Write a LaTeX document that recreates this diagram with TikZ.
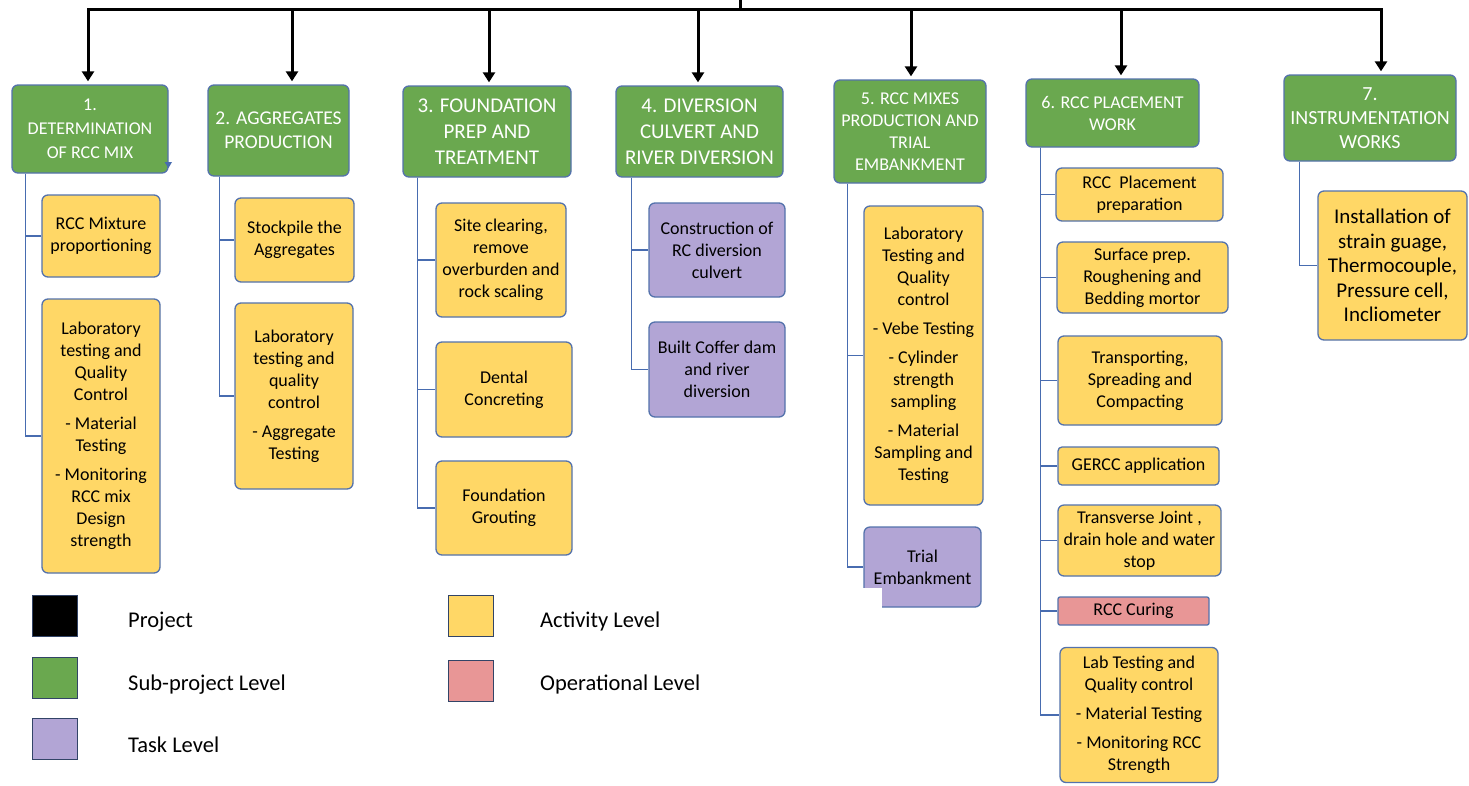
\documentclass[tikz,border=0pt]{standalone}
\usepackage{fontspec}
\setmainfont{Carlito}
\usetikzlibrary{arrows.meta}
\definecolor{grn}{RGB}{106,168,79}
\definecolor{yel}{RGB}{255,215,102}
\definecolor{pur}{RGB}{178,165,213}
\definecolor{pnk}{RGB}{232,150,150}
\definecolor{bordc}{RGB}{84,114,172}
\definecolor{lineblue}{RGB}{72,108,176}
\newcommand\fs[2]{\fontsize{#1}{#2}\selectfont}
\begin{document}
\begin{tikzpicture}[x=1pt,y=-1pt,
  box/.style={draw=bordc, line width=1.3pt, rounded corners=6pt, inner sep=0pt, align=center, font=\fs{18}{22}},
  grbox/.style={box, fill=grn, text=white},
  yebox/.style={box, fill=yel},
  pubox/.style={box, fill=pur},
  pkbox/.style={box, fill=pnk, rounded corners=2pt},
  conn/.style={draw=lineblue, line width=1.6pt},
  arr/.style={line width=3pt, shorten >=3pt, -{Triangle[width=12pt,length=10pt]}},
  bar/.style={line width=3pt, line cap=rect},
  legsq/.style={draw=bordc!60!black, line width=1pt, inner sep=0pt, minimum width=45pt, minimum height=41pt},
  legtx/.style={anchor=base west, inner sep=0pt, font=\fs{22.5}{27}}
]
\fill[white] (0,0) rectangle (1469,785);
\useasboundingbox (0,0) rectangle (1469,785);

% sub-project boxes
\node[grbox, font=\fs{18}{24}, minimum width=156pt, minimum height=88pt] (g1) at (90,129) {1.\\DETERMINATION\\OF RCC MIX};
\node[grbox, font=\fs{19.5}{24}, minimum width=141pt, minimum height=91pt] (g2) at (278.5,130.5) {2. AGGREGATES\\PRODUCTION};
\node[grbox, font=\fs{21}{26}, minimum width=168pt, minimum height=91pt] (g3) at (487,131.5) {3. FOUNDATION\\PREP AND\\TREATMENT};
\node[grbox, font=\fs{21}{26}, minimum width=167pt, minimum height=91pt] (g4) at (699.5,131.5) {4. DIVERSION\\CULVERT AND\\RIVER DIVERSION};
\node[grbox, font=\fs{18}{22}, minimum width=152pt, minimum height=103pt] (g5) at (910,131.5) {5. RCC MIXES\\PRODUCTION AND\\TRIAL\\EMBANKMENT};
\node[grbox, font=\fs{18}{22}, minimum width=173pt, minimum height=68pt] (g6) at (1112.5,113) {6. RCC PLACEMENT\\WORK};
\node[grbox, font=\fs{20}{24}, minimum width=172pt, minimum height=86pt] (g7) at (1370,118) {7.\\INSTRUMENTATION\\WORKS};
\fill[lineblue] (164.5,162) -- (172,162) -- (168.5,168) -- cycle;

% top bar and arrows
\coordinate (proj) at (740,0);
\coordinate (bar) at (740,9);
\coordinate (a1) at ([xshift=-2pt]g1.north);
\coordinate (a2) at ([xshift=13.5pt]g2.north);
\coordinate (a3) at ([xshift=2pt]g3.north);
\coordinate (a4) at ([xshift=-1.5pt]g4.north);
\coordinate (a5) at ([xshift=1pt]g5.north);
\coordinate (a6) at ([xshift=8.5pt]g6.north);
\coordinate (a7) at ([xshift=11pt]g7.north);
\draw[bar] (a1 |- bar) -- (a7 |- bar);
\draw[line width=3pt] (proj) -- (bar);
\foreach \a in {a1,a2,a3,a4,a5,a6,a7} \draw[arr] (\a |- bar) -- (\a);

% column 1
\node[yebox, minimum width=118pt, minimum height=82pt] (c11) at (101,236) {RCC Mixture\\proportioning};
\node[yebox, minimum width=118pt, minimum height=274pt] (c12) at (101,436) {Laboratory\\testing and\\Quality\\Control\\[7pt]- Material\\Testing\\[7pt]- Monitoring\\RCC mix\\Design\\strength};
% column 2
\node[yebox, minimum width=119pt, minimum height=84pt] (c21) at (294.5,240) {Stockpile the\\Aggregates};
\node[yebox, minimum width=118pt, minimum height=186pt] (c22) at (294,396) {Laboratory\\testing and\\quality\\control\\[7pt]- Aggregate\\Testing};
% column 3
\node[yebox, minimum width=130pt, minimum height=114pt] (c31) at (501,260) {Site clearing,\\remove\\overburden and\\rock scaling};
\node[yebox, minimum width=136pt, minimum height=95pt] (c32) at (504,389.5) {Dental\\Concreting};
\node[yebox, minimum width=136pt, minimum height=94pt] (c33) at (504,508) {Foundation\\Grouting};
% column 4
\node[pubox, minimum width=136pt, minimum height=94pt] (c41) at (717,250) {Construction of\\RC diversion\\culvert};
\node[pubox, minimum width=136pt, minimum height=95pt] (c42) at (717,369.5) {Built Coffer dam\\and river\\diversion};
% column 5
\node[yebox, minimum width=119pt, minimum height=299pt] (c51) at (923.5,355.5) {Laboratory\\Testing and\\Quality\\control\\[7pt]- Vebe Testing\\[7pt]- Cylinder\\strength\\sampling\\[7pt]- Material\\Sampling and\\Testing};
\node[pubox, minimum width=117pt, minimum height=80pt] (c52) at (922.5,567) {Trial\\Embankment};
\fill[white] (862,588) rectangle (882,609);
% column 6
\node[yebox, minimum width=167pt, minimum height=53pt] (c61) at (1139.5,194.5) {RCC~~Placement\\preparation};
\node[yebox, minimum width=171pt, minimum height=71pt] (c62) at (1142.5,277.5) {Surface prep.\\Roughening and\\Bedding mortor};
\node[yebox, minimum width=164pt, minimum height=89pt] (c63) at (1140,380.5) {Transporting,\\Spreading and\\Compacting};
\node[yebox, rounded corners=4pt, minimum width=161pt, minimum height=38pt] (c64) at (1138.5,466) {GERCC application};
\node[yebox, minimum width=163pt, minimum height=71pt] (c65) at (1139.5,540.5) {Transverse Joint ,\\drain hole and water\\stop};
\node[pkbox, minimum width=151pt, minimum height=28pt] (c66) at (1133.5,611) {RCC Curing};
\node[yebox, minimum width=158pt, minimum height=135pt] (c67) at (1139,715) {Lab Testing and\\Quality control\\[7pt]- Material Testing\\[7pt]- Monitoring RCC\\Strength};
% column 7
\node[yebox, font=\fs{21}{24.5}, minimum width=149pt, minimum height=149pt] (c71) at (1392.5,265.5) {Installation of\\strain guage,\\Thermocouple,\\Pressure cell,\\Incliometer};

% connectors
\foreach \c in {c11,c12} \draw[conn] ([xshift=14pt]g1.south west) |- (\c.west);
\foreach \c in {c21,c22} \draw[conn] ([xshift=12pt]g2.south west) |- (\c.west);
\foreach \c in {c31,c32,c33} \draw[conn] ([xshift=15pt]g3.south west) |- (\c.west);
\foreach \c in {c41,c42} \draw[conn] ([xshift=16pt]g4.south west) |- (\c.west);
\foreach \c in {c51,c52} \draw[conn] ([xshift=14pt]g5.south west) |- (\c.west);
\foreach \c in {c61,c62,c63,c64,c65,c66,c67} \draw[conn] ([xshift=15pt]g6.south west) |- (\c.west);
\draw[conn] ([xshift=16pt]g7.south west) |- (c71.west);

% legend
\node[legsq, fill=black] (l1) at (54.5,615.5) {};
\node[legsq, fill=grn] (l2) at (54.5,678) {};
\node[legsq, fill=pur] (l3) at (54.5,739) {};
\node[legsq, fill=yel] (l4) at (470.5,615.5) {};
\node[legsq, fill=pnk] (l5) at (470.5,680.5) {};
\node[legtx] (t1) at (128,627) {Project};
\node[legtx] (t2) at (128,690) {Sub-project Level};
\node[legtx] (t3) at (128,752) {Task Level};
\node[legtx] (t4) at (540,627) {Activity Level};
\node[legtx] (t5) at (540,690) {Operational Level};
\end{tikzpicture}
\end{document}
